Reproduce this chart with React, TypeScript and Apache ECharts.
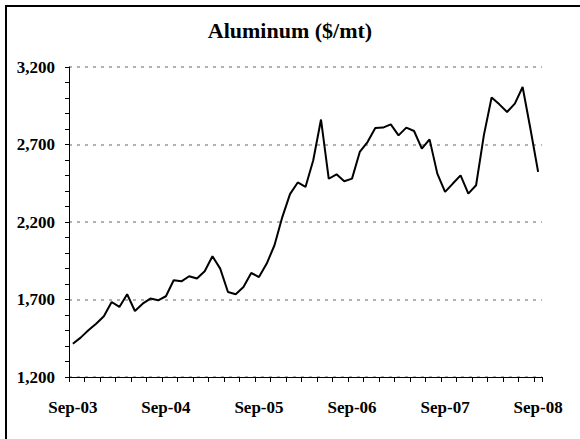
import React, { useEffect, useRef } from "react";
import * as echarts from "echarts";

const months: string[] = [
  "Sep-03", "Oct-03", "Nov-03", "Dec-03",
  "Jan-04", "Feb-04", "Mar-04", "Apr-04", "May-04", "Jun-04", "Jul-04", "Aug-04", "Sep-04", "Oct-04", "Nov-04", "Dec-04",
  "Jan-05", "Feb-05", "Mar-05", "Apr-05", "May-05", "Jun-05", "Jul-05", "Aug-05", "Sep-05", "Oct-05", "Nov-05", "Dec-05",
  "Jan-06", "Feb-06", "Mar-06", "Apr-06", "May-06", "Jun-06", "Jul-06", "Aug-06", "Sep-06", "Oct-06", "Nov-06", "Dec-06",
  "Jan-07", "Feb-07", "Mar-07", "Apr-07", "May-07", "Jun-07", "Jul-07", "Aug-07", "Sep-07", "Oct-07", "Nov-07", "Dec-07",
  "Jan-08", "Feb-08", "Mar-08", "Apr-08", "May-08", "Jun-08", "Jul-08", "Aug-08", "Sep-08",
];

const aluminum: number[] = [
  1415, 1454, 1501, 1544, 1592, 1684, 1652, 1734, 1626, 1673, 1706, 1695,
  1721, 1824, 1817, 1850, 1835, 1882, 1979, 1899, 1748, 1734, 1781, 1871,
  1845, 1932, 2050, 2230, 2380, 2455, 2426, 2598, 2861, 2479, 2508, 2463,
  2480, 2652, 2716, 2806, 2809, 2830, 2759, 2809, 2787, 2673, 2733, 2512,
  2394, 2448, 2501, 2383, 2437, 2759, 3003, 2959, 2910, 2964, 3071, 2803,
  2523,
];

const titleText = "Aluminum ($/mt)";
const yMin = 1200;
const yMax = 3200;
const yInterval = 500;

export default function App() {
  const ref = useRef<HTMLDivElement>(null);
  useEffect(() => {
    if (!ref.current) return;
    const chart = echarts.init(ref.current, undefined, { renderer: "svg" });
    const font = "'Liberation Serif', 'Times New Roman', serif";
    chart.setOption({
      animation: false,
      backgroundColor: "#ffffff",
      title: {
        text: titleText,
        left: "center",
        top: 19,
        padding: 0,
        textStyle: { fontFamily: font, fontWeight: "bold", fontSize: 22, color: "#000" },
      },
      graphic: [
        {
          type: "rect",
          shape: { x: 6, y: 6, width: 700, height: 600 },
          style: { fill: "none", stroke: "#000", lineWidth: 2 },
          silent: true,
        },
      ],
      grid: { left: 69, right: 38, top: 67, bottom: 62 },
      xAxis: {
        type: "category",
        data: months,
        boundaryGap: true,
        axisLine: { lineStyle: { color: "#000", width: 1 } },
        axisTick: { show: true, interval: 1, length: 5, lineStyle: { color: "#000" } },
        axisLabel: {
          interval: 11,
          margin: 22,
          fontFamily: font,
          fontWeight: "bold",
          fontSize: 17,
          color: "#000",
        },
        splitLine: { show: false },
      },
      yAxis: {
        type: "value",
        min: yMin,
        max: yMax,
        interval: yInterval,
        axisLine: { show: true, lineStyle: { color: "#000", width: 1 } },
        axisTick: { show: true, length: 4, lineStyle: { color: "#000" } },
        minorTick: { show: true, splitNumber: 5, length: 4, lineStyle: { color: "#000" } },
        axisLabel: {
          margin: 14,
          fontFamily: font,
          fontWeight: "bold",
          fontSize: 17,
          color: "#000",
          formatter: (v: number) => v.toLocaleString("en-US"),
        },
        splitLine: {
          show: true,
          lineStyle: { color: "#999999", type: [3, 5], width: 1.5 },
        },
      },
      series: [
        {
          type: "line",
          data: aluminum,
          symbol: "none",
          lineStyle: { color: "#000", width: 2 },
        },
      ],
    });
    return () => chart.dispose();
  }, []);
  return (
    <div
      ref={ref}
      style={{ position: "fixed", left: 0, top: 0, width: 580, height: 439, background: "#fff" }}
    />
  );
}
